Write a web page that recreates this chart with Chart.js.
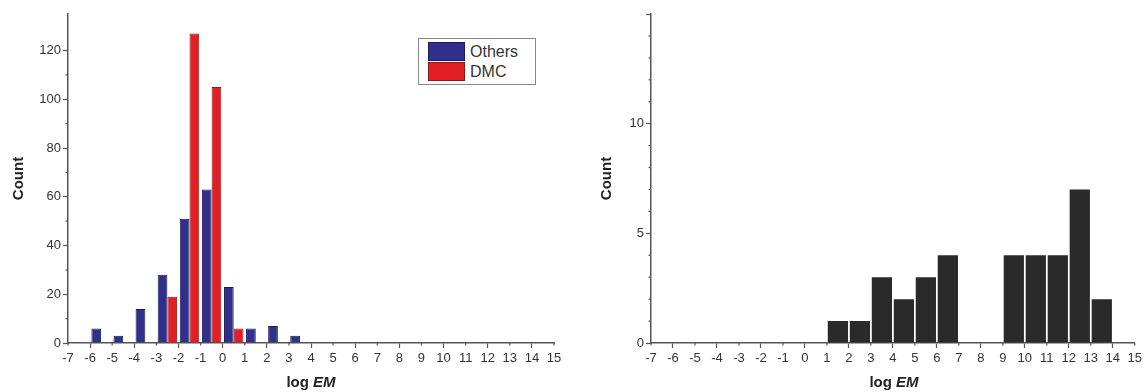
<!DOCTYPE html>
<html>
<head>
<meta charset="utf-8">
<script src="https://cdn.jsdelivr.net/npm/chart.js@4"></script>
<style>
  body { margin: 0; background: #fff; overflow: hidden; font-family: "Liberation Sans", Arial, sans-serif; }
  .box { position: absolute; top: 0; height: 392px; }
  .xtitle { position: absolute; top: 373px; font-weight: bold; font-size: 15px; color: #222; transform: translateX(-50%); white-space: nowrap; }
  .legend { position: absolute; left: 418px; top: 38px; width: 116px; height: 45px; border: 1px solid #888; background: #fff; }
  .legend div { position: absolute; left: 9px; height: 19px; font-size: 16px; color: #333; line-height: 19px; }
  .legend span { display: inline-block; width: 37px; height: 19px; vertical-align: top; margin-right: 5px; box-sizing: border-box; }
</style>
</head>
<body>
<div class="box" style="left:0;width:570px"><canvas id="chartLeft"></canvas></div>
<div class="box" style="left:580px;width:565px"><canvas id="chartRight"></canvas></div>
<div class="xtitle" style="left:311px">log <i>EM</i></div>
<div class="xtitle" style="left:894px">log <i>EM</i></div>
<div class="legend" id="legend"></div>
<script>
// ---- dados (início de cada classe de log EM e contagens) ----
const othersBins = [-6, -5, -4, -3, -2, -1, 0, 1, 2, 3];
const othersCounts = [6, 3, 14, 28, 51, 63, 23, 6, 7, 3];
const dmcBins = [-3, -2, -1, 0];
const dmcCounts = [19, 127, 105, 6];
const rightBins = [1, 2, 3, 4, 5, 6, 9, 10, 11, 12, 13];
const rightCounts = [1, 1, 3, 2, 3, 4, 4, 4, 4, 7, 2];
const xRange = [-7, 15];

const AXIS = '#555';
const TEXT = '#333';

function points(bins, counts) {
    return bins.map((b, i) => ({ x: b + 0.5, y: counts[i] }));
}

// ticks maiores só nos valores "major"; os menores são desenhados pelo plugin
function tickColor(major) {
    return ctx => (ctx.tick && ctx.tick.value % major === 0) ? AXIS : 'rgba(0,0,0,0)';
}

const minorTicks = {
    id: 'minorTicks',
    afterDraw(chart) {
        const c = chart.ctx;
        c.save();
        c.strokeStyle = AXIS;
        c.lineWidth = 1.2;
        Object.values(chart.scales).forEach(s => {
            const spec = s.options.minorSpec;
            if (!spec) return;
            s.ticks.forEach(t => {
                const v = t.value;
                if (v % spec.minor !== 0 || v % spec.major === 0) return;
                const p = s.getPixelForValue(v);
                c.beginPath();
                if (s.isHorizontal()) {
                    c.moveTo(p, s.top); c.lineTo(p, s.top + 2.5);
                } else {
                    c.moveTo(s.right, p); c.lineTo(s.right - 2.5, p);
                }
                c.stroke();
            });
        });
        c.restore();
    }
};

function xAxis() {
    return {
        type: 'linear',
        min: xRange[0],
        max: xRange[1],
        offset: false,
        minorSpec: { major: 2, minor: 1 },
        afterFit: s => { s.height = 49; },
        border: { display: true, color: AXIS, width: 1.5 },
        grid: { offset: false, drawOnChartArea: false, drawTicks: true, tickLength: 5, tickColor: tickColor(2), tickWidth: 1.2 },
        ticks: { stepSize: 1, autoSkip: false, maxRotation: 0, color: TEXT, padding: 3,
                 font: { family: 'Liberation Sans', size: 13 } }
    };
}

function yAxis(max, step, labelEvery, width, titlePad) {
    return {
        min: 0,
        max: max,
        minorSpec: { major: labelEvery, minor: step },
        afterFit: s => { s.width = width; },
        border: { display: true, color: AXIS, width: 1.5 },
        grid: { drawOnChartArea: false, drawTicks: true, tickLength: 5, tickColor: tickColor(labelEvery), tickWidth: 1.2 },
        ticks: {
            stepSize: step,
            autoSkip: false,
            color: TEXT,
            padding: 2,
            font: { family: 'Liberation Sans', size: 13 },
            callback: v => (v % labelEvery === 0 && v < max) ? String(v) : ''
        },
        title: {
            display: true,
            text: 'Count',
            color: '#222',
            padding: { top: titlePad, bottom: 0 },
            font: { family: 'Liberation Sans', size: 15, weight: 'bold' }
        }
    };
}

const common = {
    responsive: true,
    maintainAspectRatio: false,
    animation: false,
    plugins: { legend: { display: false }, tooltip: { enabled: false } }
};

const leftDatasets = [
    { label: 'Others', data: points(othersBins, othersCounts),
      backgroundColor: '#30308c', borderColor: '#1c1c55', borderWidth: 1 },
    { label: 'DMC', data: points(dmcBins, dmcCounts),
      backgroundColor: '#e21f25', borderColor: '#8a1a1a', borderWidth: 1 }
];

new Chart(document.getElementById('chartLeft'), {
    type: 'bar',
    data: { datasets: leftDatasets },
    options: {
        ...common,
        layout: { padding: { top: 14, right: 16, left: 0, bottom: 0 } },
        datasets: { bar: { categoryPercentage: 0.88, barPercentage: 1 } },
        scales: { x: xAxis(), y: yAxis(135, 10, 20, 68, 10) }
    },
    plugins: [minorTicks]
});

new Chart(document.getElementById('chartRight'), {
    type: 'bar',
    data: { datasets: [
        { label: 'Count', data: points(rightBins, rightCounts),
          backgroundColor: '#2a2a2a', borderWidth: 0 }
    ] },
    options: {
        ...common,
        layout: { padding: { top: 14, right: 0, left: 0, bottom: 0 } },
        datasets: { bar: { categoryPercentage: 0.92, barPercentage: 1 } },
        scales: { x: xAxis(), y: yAxis(15, 1, 5, 71, 18) }
    },
    plugins: [minorTicks]
});

// legenda em caixa, como no original
const legend = document.getElementById('legend');
leftDatasets.forEach((ds, i) => {
    const row = document.createElement('div');
    row.style.top = (3 + i * 20) + 'px';
    row.innerHTML = `<span style="background:${ds.backgroundColor};border:1px solid ${ds.borderColor}"></span>${ds.label}`;
    legend.appendChild(row);
});
</script>
</body>
</html>
